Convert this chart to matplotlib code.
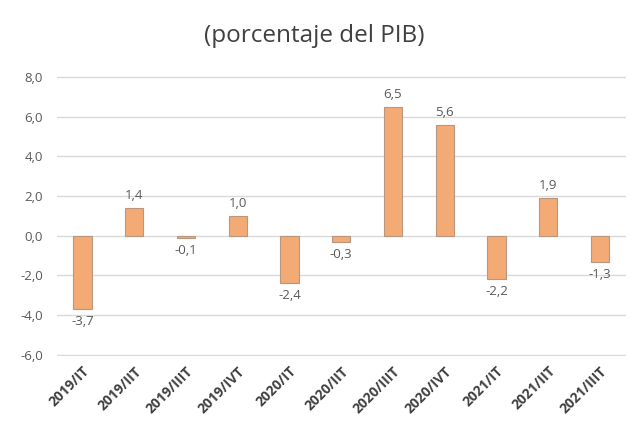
import matplotlib
matplotlib.use('Agg')
import matplotlib.pyplot as plt
import numpy as np

plt.rcParams['font.family'] = ['Open Sans', 'DejaVu Sans']

# ── Data ───────────────────────────────────────────────────────────────────────
quarters = ['2019/IT', '2019/IIT', '2019/IIIT', '2019/IVT',
            '2020/IT', '2020/IIT', '2020/IIIT', '2020/IVT',
            '2021/IT', '2021/IIT', '2021/IIIT']
values = [-3.7, 1.4, -0.1, 1.0, -2.4, -0.3, 6.5, 5.6, -2.2, 1.9, -1.3]
y_ticks = [-6, -4, -2, 0, 2, 4, 6, 8]

# ── Plot ───────────────────────────────────────────────────────────────────────
fig = plt.figure(figsize=(6.29, 4.43), dpi=100)
ax = fig.add_axes([0.09, 0.197, 0.905, 0.631])

x = np.arange(len(quarters))
ax.bar(x, values, width=0.35, color='#F4AA74', edgecolor='#B9977E',
       linewidth=0.8, zorder=3)

for xi, v in zip(x, values):
    lbl = f'{v:.1f}'.replace('.', ',')
    if v >= 0:
        ax.text(xi, v + 0.3, lbl, ha='center', va='bottom',
                fontsize=9.5, color='#595959')
    else:
        ax.text(xi, v - 0.3, lbl, ha='center', va='top',
                fontsize=9.5, color='#595959')

ax.set_xlim(-0.5, len(quarters) - 0.5)
ax.set_ylim(-6.05, 8.05)
ax.set_yticks(y_ticks)
ax.set_yticklabels([f'{t:.1f}'.replace('.', ',') for t in y_ticks],
                   fontsize=9.5, color='#595959')
ax.set_xticks(x)
ax.set_xticklabels(quarters, rotation=45, ha='right', rotation_mode='anchor',
                   fontsize=10, fontweight='bold', color='#404040')
ax.tick_params(axis='y', length=0, pad=10)
ax.tick_params(axis='x', length=0, pad=6)
ax.grid(axis='y', color='#D9D9D9', linewidth=1, zorder=0)
for s in ax.spines.values():
    s.set_visible(False)

fig.text(0.5, 0.918, '(porcentaje del PIB)', ha='center', va='center',
         fontsize=17.5, color='#404040')

fig.savefig('out.png', dpi=100)
